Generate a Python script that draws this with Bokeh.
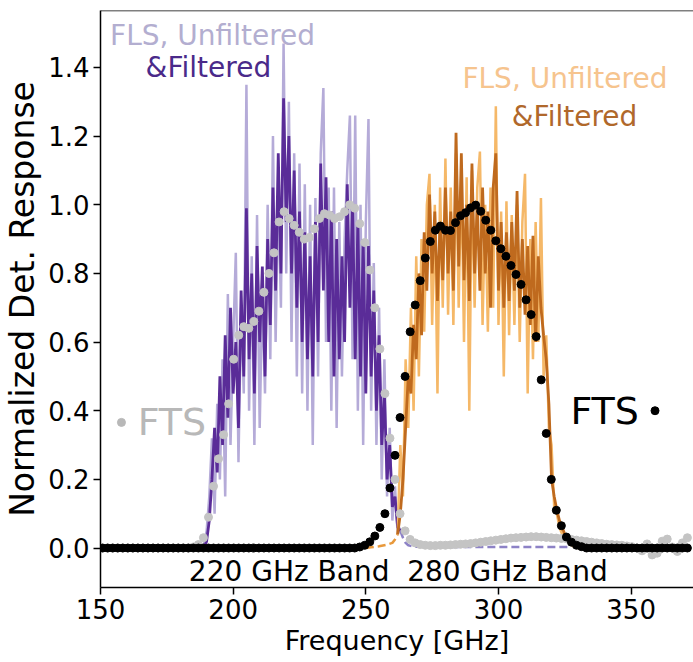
import numpy as np
from bokeh.plotting import figure
from bokeh.models import Range1d, FixedTicker, Span, Label, PrintfTickFormatter
from bokeh.embed import file_html
from bokeh.resources import INLINE

# ---------------- data ----------------
# FTS sampling grid (GHz)
fts_start = 150.8
fts_step = 1.9
fts_freq = [round(fts_start + fts_step * i, 2) for i in range(117)]

# FTS, 280 GHz band (black dots)
fts280 = ([0.0] * 51 +
          [0.003, 0.008, 0.018, 0.035, 0.06, 0.1, 0.175, 0.27, 0.38, 0.5, 0.63,
           0.708, 0.779, 0.845, 0.893, 0.926, 0.938, 0.926, 0.925, 0.948, 0.968,
           0.977, 0.991, 0.999, 0.981, 0.955, 0.926, 0.895, 0.872, 0.85, 0.823,
           0.797, 0.768, 0.723, 0.68, 0.616,
           0.49, 0.334, 0.2, 0.11, 0.065, 0.032, 0.017, 0.008, 0.004] +
          [0.0] * 21)

# FTS, 220 GHz band (grey dots)
fts220 = ([0.0] * 18 +
          [0.003, 0.01, 0.03, 0.09, 0.18, 0.26, 0.33, 0.42, 0.55, 0.62, 0.645,
           0.64, 0.66, 0.69, 0.745, 0.8, 0.86, 0.95, 0.98, 0.96, 0.94, 0.92,
           0.90, 0.905, 0.93, 0.96, 0.974, 0.97, 0.96, 0.965, 0.98, 1.0, 0.99,
           0.945, 0.89, 0.81, 0.70, 0.58, 0.45, 0.32, 0.2, 0.1, 0.05, 0.025,
           0.015, 0.01,
           0.008, 0.007, 0.007, 0.008, 0.008, 0.009, 0.01, 0.011,
           0.012, 0.013, 0.015, 0.017, 0.019, 0.021, 0.023, 0.025, 0.027,
           0.029, 0.03, 0.031, 0.032, 0.033, 0.033, 0.032, 0.031, 0.03,
           0.029, 0.028, 0.027, 0.025, 0.023, 0.021, 0.019, 0.017,
           0.015, 0.013, 0.011, 0.01, 0.009, 0.008, 0.006,
           0.004, 0.0, -0.008, 0.012, -0.02, -0.015, 0.02, 0.026, 0.003, -0.01,
           0.015, 0.03])

# FLS 220 GHz band (1 GHz sampling)
fls220_freq = list(range(188, 264))
fls220_unfilt = [0.0, 0.01, 0.05, 0.15, 0.32, 0.1, 0.42, 0.2, 0.55, 0.15,
                 0.74, 0.3, 0.6, 0.86, 0.25, 0.7, 0.45, 1.35, 0.4, 0.85,
                 0.3, 0.97, 0.35, 0.75, 0.45, 1.0, 0.55, 1.2, 0.6, 1.05,
                 0.7, 1.47, 0.8, 1.3, 0.6, 1.15, 0.5, 1.12, 0.45, 1.06,
                 0.4, 1.0, 0.3, 1.02, 0.5, 1.15, 1.34, 0.6, 1.05, 0.4,
                 1.05, 0.35, 0.95, 0.5, 0.9, 1.1, 1.26, 0.55, 1.26, 0.4,
                 1.0, 0.3, 0.95, 1.25, 0.4, 0.83, 0.3, 0.7, 0.2, 0.55,
                 0.15, 0.35, 0.08, 0.18, 0.04, 0.06]
fls220_filt = [0.0, 0.0, 0.02, 0.08, 0.2, 0.35, 0.22, 0.5, 0.3, 0.62,
               0.38, 0.7, 0.45, 0.6, 0.35, 0.75, 0.5, 0.99, 0.55, 0.8,
               0.45, 0.88, 0.6, 0.82, 0.5, 0.9, 0.65, 1.05, 0.75, 1.15,
               0.8, 1.31, 0.95, 1.2, 0.8, 1.1, 0.7, 0.98, 0.6, 0.92,
               0.55, 0.85, 0.5, 0.95, 0.6, 1.12, 0.75, 1.08, 0.6, 0.98,
               0.5, 0.9, 0.55, 0.85, 0.6, 1.06, 0.7, 1.0, 0.55, 0.95,
               0.5, 0.9, 0.45, 0.88, 0.5, 0.75, 0.4, 0.62, 0.3, 0.45,
               0.2, 0.3, 0.12, 0.15, 0.06, 0.05]
fls220_tail_freq = [263, 264, 265, 266, 268, 280, 300, 326]
fls220_tail = [0.05, 0.03, 0.015, 0.008, 0.004, 0.003, 0.003, 0.003]

# FLS 280 GHz band (1 GHz sampling)
fls280_head_freq = [250, 252, 255, 258, 260, 261, 262]
fls280_head = [0.0, 0.002, 0.005, 0.01, 0.015, 0.025, 0.04]
fls280_freq = list(range(262, 332))
fls280_unfilt = [0.04, 0.3, 0.15, 0.55, 0.35, 0.7, 0.4, 0.85, 0.5, 0.9,
                 0.63, 1.0, 1.09, 0.65, 1.0, 0.45, 1.05, 0.7, 1.135, 0.68,
                 1.05, 0.65, 1.15, 0.7, 1.1, 0.6, 1.08, 0.4, 1.1, 0.7,
                 1.05, 1.155, 0.65, 1.0, 0.63, 1.05, 0.7, 1.287, 0.65, 0.98,
                 0.5, 1.01, 0.62, 0.97, 0.65, 1.0, 0.6, 0.95, 1.09, 0.45,
                 0.9, 0.55, 0.95, 0.6, 1.02, 0.5, 0.62, 0.35, 0.3, 0.12,
                 0.1, 0.06, 0.04, 0.03, 0.02, 0.012, 0.006, 0.003, 0.0, 0.0]
fls280_filt = [0.04, 0.1, 0.2, 0.35, 0.5, 0.45, 0.65, 0.55, 0.8, 0.62,
               0.92, 0.75, 1.03, 0.8, 0.98, 0.72, 0.95, 0.78, 1.05, 0.8,
               0.98, 0.75, 1.21, 0.82, 1.15, 0.78, 1.0, 0.72, 1.12, 0.8,
               1.0, 0.75, 1.05, 0.8, 0.98, 0.7, 1.05, 1.15, 0.75, 0.95,
               0.7, 0.92, 0.72, 0.95, 0.75, 1.04, 0.7, 0.9, 0.68, 0.88,
               0.65, 0.91, 0.6, 0.85, 0.7, 0.62, 0.55, 0.42, 0.2, 0.15,
               0.11, 0.08, 0.06, 0.04, 0.03, 0.02, 0.012, 0.006, 0.003, 0.0]

x_ticks = [150, 200, 250, 300, 350]
y_ticks = [0.0, 0.2, 0.4, 0.6, 0.8, 1.0, 1.2, 1.4]

# ---------------- colours ----------------
LAV = "#b5abd8"
PURPLE = "#5a2c98"
LORANGE = "#f5b868"
DORANGE = "#bf6a1e"
GREY = "#c4c4c4"
FONT = "DejaVu Sans"

p = figure(width=693, height=662, x_range=Range1d(150, 373.5),
           y_range=Range1d(-0.115, 1.566), output_backend="svg",
           toolbar_location=None, min_border_left=99, min_border_right=0,
           min_border_top=10, min_border_bottom=75)
p.outline_line_color = None
p.xgrid.visible = False
p.ygrid.visible = False

for ax in (p.xaxis[0], p.yaxis[0]):
    ax.axis_line_width = 1.5
    ax.axis_line_color = "black"
    ax.major_tick_line_width = 1.5
    ax.major_tick_line_color = "black"
    ax.major_tick_out = 7
    ax.major_tick_in = 0
    ax.minor_tick_out = 0
    ax.minor_tick_in = 0
    ax.major_label_text_font = FONT
    ax.major_label_text_font_size = "26px"
    ax.major_label_text_color = "black"
    ax.axis_label_text_font = FONT
    ax.axis_label_text_font_style = "normal"
    ax.axis_label_text_color = "black"
    ax.major_label_standoff = 4
    ax.axis_label_standoff = 3

p.xaxis.axis_label_text_font_size = "27px"
p.yaxis.axis_label_text_font_size = "33px"
p.xaxis.ticker = FixedTicker(ticks=x_ticks)
p.yaxis.ticker = FixedTicker(ticks=y_ticks)
p.yaxis.formatter = PrintfTickFormatter(format="%.1f")
p.xaxis.axis_label = "Frequency [GHz]"
p.yaxis.axis_label = "Normalized Det. Response"

p.add_layout(Span(location=1.566, dimension="width", line_color="black", line_width=1.5))

# FLS lines
p.line(fls220_freq, fls220_unfilt, line_color=LAV, line_width=2.5)
p.line(fls220_freq, fls220_filt, line_color=PURPLE, line_width=2.8)
p.line(fls220_tail_freq, fls220_tail, line_color="#8d82c6", line_width=2.5, line_dash="8 4")
p.line(fls280_head_freq, fls280_head, line_color="#e8993c", line_width=2.5, line_dash="8 4")
p.line(fls280_freq, fls280_unfilt, line_color=LORANGE, line_width=2.5)
p.line(fls280_freq, fls280_filt, line_color=DORANGE, line_width=2.8)

# FTS dots
p.scatter(fts_freq, fts220, size=8, fill_color=GREY, line_color=GREY)
p.scatter(fts_freq, fts280, size=8, fill_color="black", line_color="black")

# annotations
def lab(x, y, text, color, size, align="left"):
    p.add_layout(Label(x=x, y=y, text=text, text_color=color, text_font=FONT,
                       text_font_size=size, text_baseline="middle", text_align=align))

lab(153.6, 1.493, "FLS, Unfiltered", "#b3aed0", "28px")
lab(167.0, 1.40, "&Filtered", "#4a2a8a", "28px")
lab(286.4, 1.367, "FLS, Unfiltered", "#f6c48e", "28px")
lab(305.0, 1.258, "&Filtered", "#b0682b", "28px")
lab(164.0, 0.366, "FTS", "#b8b8b8", "38px")
lab(327.1, 0.40, "FTS", "black", "38px")
lab(183.3, -0.068, "220 GHz Band", "black", "28px")
lab(265.6, -0.068, "280 GHz Band", "black", "28px")

fts_key_x = [157.9, 359.0]
fts_key_y = [0.366, 0.40]
p.scatter([fts_key_x[0]], [fts_key_y[0]], size=8, fill_color="#b8b8b8", line_color="#b8b8b8")
p.scatter([fts_key_x[1]], [fts_key_y[1]], size=8, fill_color="black", line_color="black")

open("out.html", "w").write(file_html(p, INLINE))
